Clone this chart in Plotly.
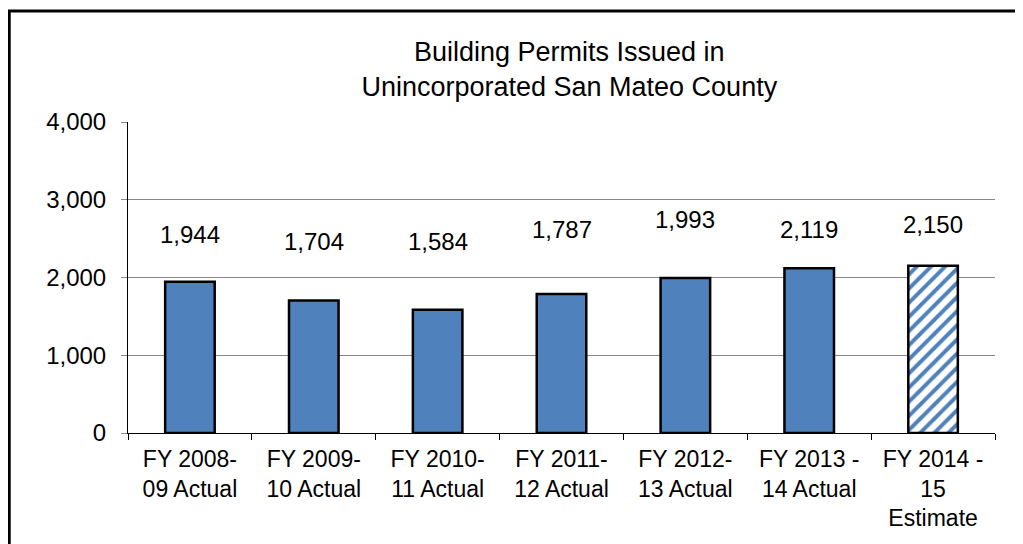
import plotly.graph_objects as go

# Fiscal year categories and permit counts
categories = [
    "FY 2008-<br>09 Actual",
    "FY 2009-<br>10 Actual",
    "FY 2010-<br>11 Actual",
    "FY 2011-<br>12 Actual",
    "FY 2012-<br>13 Actual",
    "FY 2013 -<br>14 Actual",
    "FY 2014 -<br>15<br>Estimate",
]
permits = [1944, 1704, 1584, 1787, 1993, 2119, 2150]
is_estimate = [False, False, False, False, False, False, True]

# where the value labels sit (data units), as in the original
label_y = [2547, 2469, 2469, 2611, 2752, 2611, 2688]

BLUE = "#4F81BD"
FONT = "Liberation Sans, Arial, sans-serif"

fig = go.Figure()
fig.add_trace(
    go.Bar(
        x=categories,
        y=permits,
        marker=dict(
            color=BLUE,
            line=dict(color="black", width=2.5),
            pattern=dict(
                shape=["/" if e else "" for e in is_estimate],
                fgcolor=[BLUE] * len(permits),
                bgcolor=["white"] * len(permits),
                fillmode="replace",
                size=10,
                solidity=0.4,
            ),
        ),
        showlegend=False,
        hoverinfo="x+y",
    )
)

for cat, val, ly in zip(categories, permits, label_y):
    fig.add_annotation(
        x=cat, y=ly, text=f"{val:,}", showarrow=False,
        font=dict(size=24, color="black", family=FONT),
    )

# outer chart border
fig.add_shape(
    type="rect", xref="paper", yref="paper",
    x0=-0.137, x1=1.05, y0=-0.40, y1=1.357,
    line=dict(color="black", width=3), layer="above",
)

# page body has an 8px margin, so the figure is a bit smaller than the window
fig.update_layout(
    width=1015,
    height=536,
    margin=dict(l=120, r=28, t=114, b=111, autoexpand=False),
    paper_bgcolor="white",
    plot_bgcolor="white",
    font=dict(family=FONT, size=24, color="black"),
    bargap=0.6,
    title=dict(
        text="Building Permits Issued in<br>Unincorporated San Mateo County",
        x=0.553,
        xanchor="center",
        y=0.902,
        yanchor="middle",
        font=dict(size=27, color="black", family=FONT),
    ),
)

fig.update_xaxes(
    automargin=False,
    showline=True, linecolor="black", linewidth=1,
    ticks="outside", tickson="boundaries", ticklen=6, tickcolor="black",
    ticklabelstandoff=5,
    tickfont=dict(size=23),
    showgrid=False,
)
fig.update_yaxes(
    automargin=False,
    range=[0, 4000], dtick=1000, tickformat=",",
    showline=True, linecolor="black", linewidth=1,
    ticks="outside", ticklen=6, tickcolor="#888888",
    ticklabelstandoff=10,
    showgrid=True, gridcolor="#888888", gridwidth=1,
    zeroline=False,
)

fig.write_html("out.html")
